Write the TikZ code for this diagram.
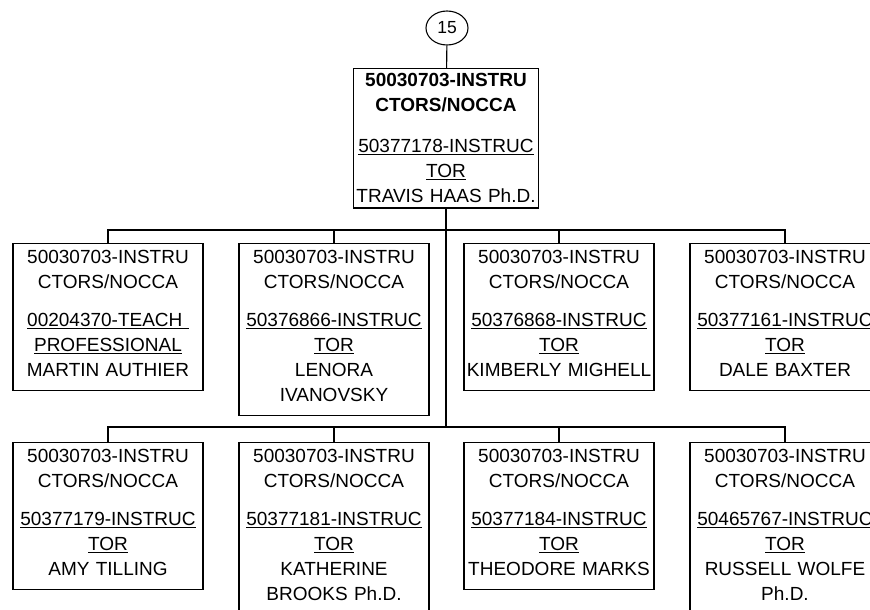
\documentclass[tikz,border=0pt]{standalone}
\usepackage{fontspec}
\setmainfont{Liberation Sans}
\usetikzlibrary{positioning,shapes.geometric}
\tikzstyle{every node}=[font=\fontsize{19}{25}\selectfont]
\tikzstyle{unitbox}=[draw,align=center,text width=186pt,inner xsep=2pt,inner ysep=7pt,anchor=north]
\tikzstyle{rootbox}=[unitbox,text width=181pt,inner ysep=5pt]
\newcommand{\lastdp}{\rule[-7pt]{0pt}{7pt}}
\newcommand{\unitpos}[3]{50030703-INSTRU\\CTORS/NOCCA\\[13pt]\underline{#1}\\\underline{#2}\\#3\lastdp}

\begin{document}
\begin{tikzpicture}[x=1pt,y=-1pt,line width=1.1pt]
  \useasboundingbox (0,0) rectangle (870,610);
  \clip (0,0) rectangle (870,610);
  \node[draw,ellipse,minimum width=42pt,minimum height=34pt,inner sep=0pt,font=\fontsize{17.5}{20}\selectfont] (top) at (447,28) {15};
  \node[rootbox] (root) at (446,68)
    {\textbf{50030703-INSTRU}\\\textbf{CTORS/NOCCA}\\[16pt]\underline{50377178-INSTRUC}\\\underline{TOR}\\TRAVIS HAAS Ph.D.};
  % first row
  \node[unitbox] (i1) at (108,243) {\unitpos{00204370-TEACH\ }{PROFESSIONAL}{MARTIN AUTHIER}};
  \node[unitbox] (i2) at (334,243) {\unitpos{50376866-INSTRUC}{TOR}{LENORA\\IVANOVSKY}};
  \node[unitbox] (i3) at (559,243) {\unitpos{50376868-INSTRUC}{TOR}{KIMBERLY MIGHELL}};
  \node[unitbox] (i4) at (785,243) {\unitpos{50377161-INSTRUC}{TOR}{DALE BAXTER}};
  % second row
  \node[unitbox] (i5) at (108,442) {\unitpos{50377179-INSTRUC}{TOR}{AMY TILLING}};
  \node[unitbox] (i6) at (334,442) {\unitpos{50377181-INSTRUC}{TOR}{KATHERINE\\BROOKS Ph.D.}};
  \node[unitbox] (i7) at (559,442) {\unitpos{50377184-INSTRUC}{TOR}{THEODORE MARKS}};
  \node[unitbox] (i8) at (785,442) {\unitpos{50465767-INSTRUC}{TOR}{RUSSELL WOLFE\\Ph.D.}};
  \coordinate (bus1) at (446,230);
  \coordinate (bus2) at (446,427);
  \draw (top) -- (root);
  \draw (root.south) -- (bus1) -- (bus2);
  \foreach \n in {i1,i2,i3,i4} \draw (bus1) -| (\n.north);
  \foreach \n in {i5,i6,i7,i8} \draw (bus2) -| (\n.north);
\end{tikzpicture}
\end{document}
